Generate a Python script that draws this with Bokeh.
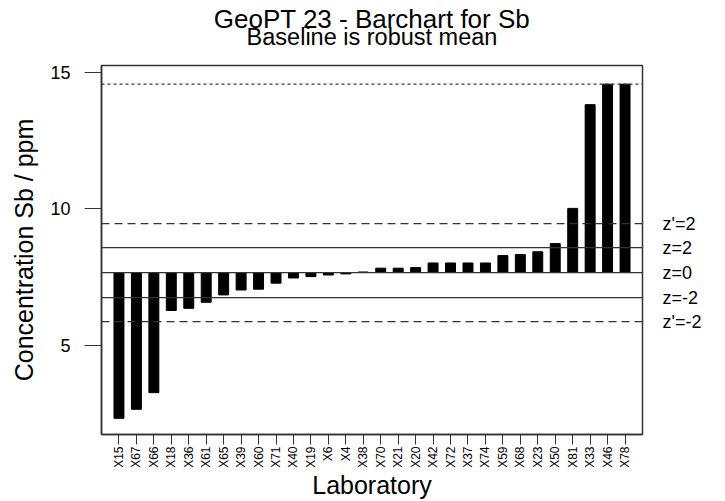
import math
from bokeh.plotting import figure
from bokeh.models import Span, FixedTicker, FactorRange, Range1d, LinearAxis, CategoricalAxis
from bokeh.embed import file_html
from bokeh.resources import INLINE

# ---- data ----
labs = ["X15", "X67", "X66", "X18", "X36", "X61", "X65", "X39", "X60", "X71",
        "X40", "X19", "X6", "X4", "X38", "X70", "X21", "X20", "X42", "X72",
        "X37", "X74", "X59", "X68", "X23", "X50", "X81", "X33", "X46", "X78"]
conc = [2.32, 2.65, 3.26, 6.27, 6.35, 6.57, 6.84, 7.02, 7.05, 7.27,
        7.46, 7.51, 7.57, 7.61, 7.68, 7.82, 7.82, 7.84, 8.01, 8.01,
        8.01, 8.01, 8.28, 8.32, 8.42, 8.72, 10.01, 13.81, 14.56, 14.56]
robust_mean = 7.66
limit_values = [9.45, 8.57, 7.66, 6.74, 5.86]
limit_labels = ["z'=2", "z=2", "z=0", "z=-2", "z'=-2"]
limit_styles = ["dashed", "solid", "solid", "solid", "dashed"]
upper_cap = 14.56
y_ticks = [5, 10, 15]
title_text = "GeoPT 23 - Barchart for Sb"
subtitle_text = "Baseline is robust mean"

FONT = "Liberation Sans"
LINE = "#333333"

p = figure(width=725, height=501,
           x_range=FactorRange(factors=labs, range_padding=0.5,
                               range_padding_units="absolute"),
           y_range=Range1d(1.727, 15.244),
           output_backend="svg", toolbar_location=None, title=None,
           min_border_left=101, min_border_right=83,
           min_border_top=64, min_border_bottom=65)

# keep explicit handles on the main axes before adding extra ones
xa = p.below[0]
ya = p.left[0]

p.background_fill_color = "white"
p.border_fill_color = "white"
p.outline_line_color = LINE
p.outline_line_width = 1.5
p.xgrid.visible = False
p.ygrid.visible = False

# titles: a bare categorical axis above the frame
# (subtitle = its single factor label, title = its axis label)
p.extra_x_ranges = {"ttl": FactorRange(factors=[subtitle_text])}
ta = CategoricalAxis(x_range_name="ttl")
ta.axis_line_color = None
ta.major_tick_line_color = None
ta.minor_tick_line_color = None
ta.major_tick_out = 0
ta.major_tick_in = 0
ta.major_label_standoff = 16
ta.major_label_orientation = "horizontal"
ta.major_label_text_font = FONT
ta.major_label_text_font_size = "23.5px"
ta.major_label_text_color = "black"
ta.axis_label = title_text
ta.axis_label_standoff = -13
ta.axis_label_text_font = FONT
ta.axis_label_text_font_size = "26px"
ta.axis_label_text_font_style = "normal"
ta.axis_label_text_color = "black"
p.add_layout(ta, "above")

# bars from robust mean
p.vbar(x=labs, bottom=robust_mean, top=conc, width=0.57,
       fill_color="black", line_color="black")

# horizontal reference lines
dash_map = {"dashed": "8 5", "solid": "solid"}
for v, st in zip(limit_values, limit_styles):
    p.add_layout(Span(location=v, dimension="width", line_color=LINE,
                      line_width=1.3, line_dash=dash_map[st]))
p.add_layout(Span(location=upper_cap, dimension="width", line_color=LINE,
                  line_width=1.3, line_dash="3 3"))

# right-hand labels for the reference lines
ra = LinearAxis(ticker=FixedTicker(ticks=limit_values),
                major_label_overrides=dict(zip(limit_values, limit_labels)))
ra.axis_line_color = None
ra.major_tick_line_color = None
ra.minor_tick_line_color = None
ra.major_tick_out = 0
ra.major_tick_in = 0
ra.major_label_standoff = 20
ra.major_label_text_font = FONT
ra.major_label_text_font_size = "18px"
ra.major_label_text_color = "black"
p.add_layout(ra, "right")

# bottom axis
xa.axis_label = "Laboratory"
xa.axis_label_text_font = FONT
xa.axis_label_text_font_size = "25px"
xa.axis_label_text_font_style = "normal"
xa.axis_label_text_color = "black"
xa.axis_label_standoff = 0
xa.major_label_orientation = math.pi / 2
xa.major_label_text_font = FONT
xa.major_label_text_font_size = "12px"
xa.major_label_text_color = "black"
xa.major_label_standoff = 2
xa.major_tick_out = 10
xa.major_tick_in = 0
xa.major_tick_line_color = LINE
xa.axis_line_color = LINE
xa.axis_line_width = 1.5

# left axis
ya.ticker = FixedTicker(ticks=y_ticks)
ya.axis_label = "Concentration Sb / ppm"
ya.axis_label_text_font = FONT
ya.axis_label_text_font_size = "25px"
ya.axis_label_text_font_style = "normal"
ya.axis_label_text_color = "black"
ya.axis_label_standoff = 9
ya.major_label_orientation = "horizontal"
ya.major_label_text_font = FONT
ya.major_label_text_font_size = "18px"
ya.major_label_text_color = "black"
ya.major_label_standoff = 14
ya.major_tick_out = 17
ya.major_tick_in = 0
ya.major_tick_line_color = LINE
ya.axis_line_color = LINE
ya.axis_line_width = 1.5

open("out.html", "w").write(file_html(p, INLINE))
